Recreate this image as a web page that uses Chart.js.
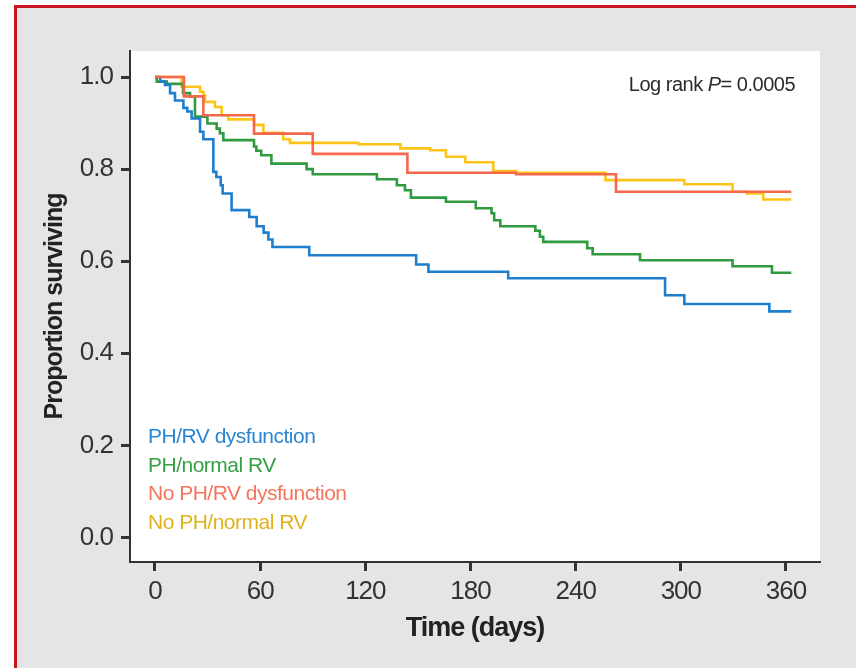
<!DOCTYPE html>
<html>
<head>
<meta charset="utf-8">
<title>Kaplan-Meier survival</title>
<script src="https://cdn.jsdelivr.net/npm/chart.js@4/dist/chart.umd.min.js"></script>
<style>
    html, body { margin: 0; padding: 0; background: #ffffff; }
    canvas { display: block; }
</style>
</head>
<body>
<canvas id="kmChart" width="856" height="668"></canvas>
<script>
// Survival data (day, proportion surviving)
const phRvDysDays = [0, 3, 5.7, 8.6, 11.4, 16.2, 18.4, 20.9, 25.7, 27.6, 33.3, 35, 37.5, 38.6, 43.7, 53.8, 58, 62, 64.7, 67, 88, 149, 156, 201.5, 291, 302, 350.5, 363];
const phRvDysSurv = [1, 0.99, 0.983, 0.965, 0.949, 0.933, 0.925, 0.91, 0.881, 0.865, 0.794, 0.783, 0.765, 0.747, 0.711, 0.696, 0.676, 0.662, 0.647, 0.631, 0.613, 0.593, 0.577, 0.563, 0.526, 0.507, 0.491, 0.491];

const phNormDays = [0, 1, 6.7, 16, 20, 22.8, 29.9, 35.2, 37, 39, 56.5, 57.8, 60.6, 66.4, 86.5, 90, 126.6, 138, 142.6, 146, 166, 183, 192, 193.5, 197, 217, 219.6, 221.5, 246.6, 249.7, 276.7, 329.5, 352, 363];
const phNormSurv = [1, 0.99, 0.985, 0.965, 0.957, 0.914, 0.899, 0.888, 0.878, 0.863, 0.849, 0.84, 0.83, 0.812, 0.8, 0.789, 0.778, 0.765, 0.754, 0.738, 0.729, 0.715, 0.704, 0.689, 0.676, 0.666, 0.653, 0.642, 0.628, 0.615, 0.602, 0.589, 0.575, 0.575];

const noPhDysDays = [0, 16.5, 27.6, 56.5, 90, 144, 206, 263, 363];
const noPhDysSurv = [1, 0.958, 0.917, 0.877, 0.833, 0.792, 0.789, 0.751, 0.751];

const noPhNormDays = [0, 15.2, 25.7, 27.6, 28.5, 34.2, 38, 41.8, 56.5, 61.8, 73.2, 77, 116, 140, 157, 166, 177, 193, 206, 257, 302, 329.5, 337.7, 347, 363];
const noPhNormSurv = [1, 0.979, 0.968, 0.961, 0.946, 0.935, 0.917, 0.908, 0.896, 0.879, 0.865, 0.857, 0.854, 0.845, 0.841, 0.827, 0.815, 0.796, 0.792, 0.776, 0.767, 0.751, 0.747, 0.734, 0.734];

const seriesLabels = ['PH/RV dysfunction', 'PH/normal RV', 'No PH/RV dysfunction', 'No PH/normal RV'];
const xTicks = [0, 60, 120, 180, 240, 300, 360];
const yTicks = [0, 0.2, 0.4, 0.6, 0.8, 1.0];
const pValueText = '0.0005';

const lineColors = ['#1f7fcf', '#2f9a3f', '#f5684c', '#fbc416'];
const textColors = ['#2a86d2', '#35a044', '#f4755c', '#dfb21a'];
const NARROW = "'Liberation Sans Narrow', 'Liberation Sans', Arial, sans-serif";
const REGULAR = "'Liberation Sans', Arial, sans-serif";

function toPoints(days, surv) {
    return days.map((d, i) => ({ x: d, y: surv[i] }));
}

/**
 * Grey panel with red frame, white plotting area.
 * Axis text is tightened a little to mimic the condensed face.
 */
const panelPlugin = {
    id: 'panel',
    beforeDraw(chart) {
        const { ctx, chartArea } = chart;
        ctx.save();
        ctx.fillStyle = '#ffffff';
        ctx.fillRect(0, 0, chart.width, chart.height);
        ctx.fillStyle = '#e5e5e7';
        ctx.fillRect(14, 5, chart.width - 14, chart.height - 5);
        ctx.fillStyle = '#c8141f';
        ctx.fillRect(14, 5, chart.width - 14, 3);
        ctx.fillRect(14, 5, 3, chart.height - 5);
        ctx.fillStyle = '#ffffff';
        ctx.fillRect(chartArea.left, chartArea.top, chartArea.right - chartArea.left, chartArea.bottom - chartArea.top);
        ctx.restore();
        if ('letterSpacing' in ctx) ctx.letterSpacing = '-1px';
    },
    afterDraw(chart) {
        if ('letterSpacing' in chart.ctx) chart.ctx.letterSpacing = '0px';
    }
};

/**
 * Coloured text legend and log rank annotation inside the plot
 */
const annotatePlugin = {
    id: 'annotate',
    afterDatasetsDraw(chart) {
        const { ctx, chartArea } = chart;
        ctx.save();
        if ('letterSpacing' in ctx) ctx.letterSpacing = '-0.5px';
        ctx.textBaseline = 'alphabetic';
        ctx.textAlign = 'left';
        ctx.font = '21px ' + REGULAR;
        seriesLabels.forEach((label, i) => {
            ctx.fillStyle = textColors[i];
            ctx.fillText(label, 148, 443 + i * 28.6);
        });

        // Log rank P= 0.0005 (P in italics), right aligned
        const parts = [
            { t: 'Log rank ', f: '20px ' + REGULAR },
            { t: 'P', f: 'italic 20px ' + REGULAR },
            { t: '= ' + pValueText, f: '20px ' + REGULAR }
        ];
        let total = 0;
        parts.forEach(p => { ctx.font = p.f; p.w = ctx.measureText(p.t).width; total += p.w; });
        let x = chartArea.right - 25 - total;
        ctx.fillStyle = '#2b2b2b';
        parts.forEach(p => {
            ctx.font = p.f;
            ctx.fillText(p.t, x, 91);
            x += p.w;
        });
        ctx.restore();
    }
};

const datasets = [
    { data: toPoints(phRvDysDays, phRvDysSurv), order: 1 },
    { data: toPoints(phNormDays, phNormSurv), order: 2 },
    { data: toPoints(noPhDysDays, noPhDysSurv), order: 0 },
    { data: toPoints(noPhNormDays, noPhNormSurv), order: 3 }
].map((ds, i) => ({
    label: seriesLabels[i],
    data: ds.data,
    order: ds.order,
    borderColor: lineColors[i],
    backgroundColor: lineColors[i],
    borderWidth: 2.6,
    stepped: true,
    pointRadius: 0,
    fill: false
}));

const axisColor = '#333333';

new Chart(document.getElementById('kmChart'), {
    type: 'line',
    data: { datasets: datasets },
    plugins: [panelPlugin, annotatePlugin],
    options: {
        responsive: false,
        animation: false,
        layout: { padding: { left: 30, top: 51, right: 36, bottom: 0 } },
        plugins: {
            legend: { display: false },
            tooltip: { enabled: false }
        },
        scales: {
            x: {
                type: 'linear',
                min: -14.26,
                max: 379.4,
                afterBuildTicks: scale => { scale.ticks = xTicks.map(v => ({ value: v })); },
                afterFit: scale => { scale.height = 106; },
                grid: {
                    drawOnChartArea: false,
                    drawTicks: true,
                    tickLength: 9,
                    tickWidth: 3,
                    tickColor: axisColor
                },
                border: { display: true, color: axisColor, width: 2 },
                ticks: {
                    padding: 5,
                    maxRotation: 0,
                    color: '#333333',
                    font: { family: NARROW, size: 26 }
                },
                title: {
                    display: true,
                    text: 'Time (days)',
                    color: '#222222',
                    font: { family: NARROW, size: 27, weight: 'bold' },
                    padding: { top: 0, bottom: 23 }
                }
            },
            y: {
                type: 'linear',
                min: -0.0532,
                max: 1.0565,
                afterBuildTicks: scale => { scale.ticks = yTicks.map(v => ({ value: v })); },
                afterFit: scale => { scale.width = 100; },
                grid: {
                    drawOnChartArea: false,
                    drawTicks: true,
                    tickLength: 9,
                    tickWidth: 3,
                    tickColor: axisColor
                },
                border: { display: true, color: axisColor, width: 2 },
                ticks: {
                    padding: 8,
                    color: '#333333',
                    font: { family: NARROW, size: 26 },
                    callback: v => v.toFixed(1)
                },
                title: {
                    display: true,
                    text: 'Proportion surviving',
                    color: '#222222',
                    font: { family: NARROW, size: 25, weight: 'bold' },
                    padding: { top: 10, bottom: 0 }
                }
            }
        }
    }
});
</script>
</body>
</html>
